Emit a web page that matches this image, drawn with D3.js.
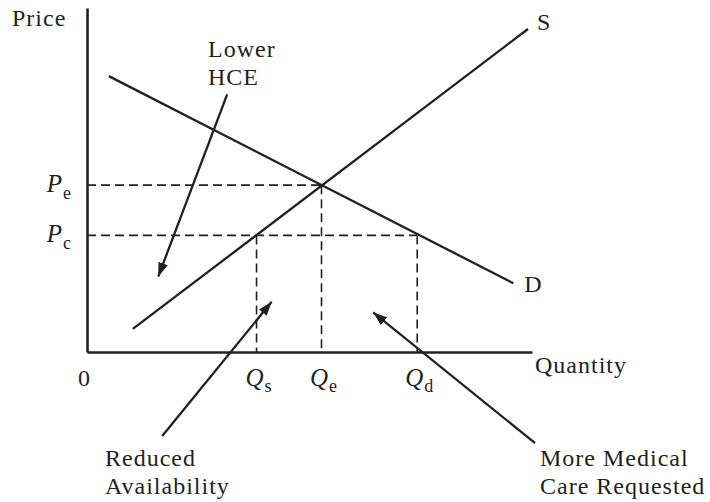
<!DOCTYPE html>
<html>
<head>
<meta charset="utf-8">
<script src="https://cdn.jsdelivr.net/npm/d3@7"></script>
<style>
  body { margin: 0; background: #fff; }
  text { font-family: "Liberation Serif", "Times New Roman", serif; fill: #231f20; letter-spacing: 1px; }
  text.sym { letter-spacing: 0; }
</style>
</head>
<body>
<div id="chart"></div>
<script>
/* curves, in quantity / price units (0-100) */
var supplyPts = [[10.3, 6.7], [99.1, 93.9]];
var demandPts = [[4.9, 80.2], [95.8, 20.0]];

/* equilibrium and price-ceiling levels */
var priceLevels = [{name: "e", p: 48.5, q: 52.7}, {name: "c", p: 33.9, q: 74.2}];
var qtyLevels = [{name: "s", q: 38.1, p: 33.9}, {name: "e", q: 52.7, p: 48.5}, {name: "d", q: 74.2, p: 33.9}];

/* annotation arrows: [from, to] */
var arrowPts = [
  [[31.5, 74.9], [16.0, 21.9]],
  [[16.9, -24.4], [41.5, 14.6]],
  [[100.7, -26.5], [64.3, 11.5]]
];

var width = 710, height = 502;
var x = d3.scaleLinear().domain([0, 100]).range([87, 532]);
var y = d3.scaleLinear().domain([0, 100]).range([352, 8]);
var ink = "#231f20";

var svg = d3.select("#chart").append("svg")
    .attr("width", width)
    .attr("height", height);

svg.append("defs").append("marker")
    .attr("id", "head")
    .attr("markerUnits", "userSpaceOnUse")
    .attr("viewBox", "0 0 14 10")
    .attr("refX", 14).attr("refY", 5)
    .attr("markerWidth", 14).attr("markerHeight", 10)
    .attr("orient", "auto")
  .append("path")
    .attr("d", "M0,0 L14,5 L0,10 Z")
    .attr("fill", ink);

var line = d3.line()
    .x(function(d){ return x(d[0]); })
    .y(function(d){ return y(d[1]); });

/* dashed guides */
svg.selectAll(".hdash")
    .data(priceLevels)
    .enter().append("line")
    .attr("x1", x(0)).attr("x2", function(d){ return x(d.q); })
    .attr("y1", function(d){ return y(d.p); }).attr("y2", function(d){ return y(d.p); })
    .attr("stroke", ink).attr("stroke-width", 1.6).attr("stroke-dasharray", "9,5");

svg.selectAll(".vdash")
    .data(qtyLevels)
    .enter().append("line")
    .attr("x1", function(d){ return x(d.q); }).attr("x2", function(d){ return x(d.q); })
    .attr("y1", function(d){ return y(d.p); }).attr("y2", y(0))
    .attr("stroke", ink).attr("stroke-width", 1.6).attr("stroke-dasharray", "9,5");

/* supply and demand */
[supplyPts, demandPts].forEach(function(pts){
  svg.append("path")
      .attr("d", line(pts))
      .attr("fill", "none")
      .attr("stroke", ink)
      .attr("stroke-width", 2.3);
});

/* axes, no ticks */
var xAxis = d3.axisBottom(x).tickValues([]).tickSizeOuter(0);
var yAxis = d3.axisLeft(y).tickValues([]).tickSizeOuter(0);
svg.append("g").attr("transform", "translate(0," + y(0) + ")").call(xAxis);
svg.append("g").attr("transform", "translate(" + x(0) + ",0)").call(yAxis);
svg.selectAll(".domain").attr("stroke", ink).attr("stroke-width", 2.6);

/* arrows */
svg.selectAll(".arrow")
    .data(arrowPts)
    .enter().append("path")
    .attr("d", function(d){ return line(d); })
    .attr("stroke", ink)
    .attr("stroke-width", 2.3)
    .attr("fill", "none")
    .attr("marker-end", "url(#head)");

/* labels */
function label(tx, ty, s, anchor) {
  svg.append("text")
      .attr("x", tx).attr("y", ty)
      .attr("text-anchor", anchor || "start")
      .style("font-size", "24px")
      .text(s);
}
label(12, 26, "Price");
label(535, 373, "Quantity");
label(x(0) - 9, 386, "0", "start");
label(x(supplyPts[1][0]) + 9, y(supplyPts[1][1]) + 1, "S");
label(x(demandPts[1][0]) + 11, y(demandPts[1][1]) + 9, "D");
label(208, 57, "Lower");
label(208, 85, "HCE");
label(105, 466, "Reduced");
label(105, 494, "Availability");
label(540, 466, "More Medical");
label(540, 494, "Care Requested");

priceLevels.forEach(function(d){
  var t = svg.append("text")
      .attr("class", "sym")
      .attr("x", 71).attr("y", y(d.p) + 7)
      .attr("text-anchor", "end")
      .style("font-size", "25px");
  t.append("tspan").style("font-style", "italic").text("P");
  t.append("tspan").attr("dy", 7).attr("dx", 1).style("font-size", "18px").text(d.name);
});

qtyLevels.forEach(function(d){
  var t = svg.append("text")
      .attr("class", "sym")
      .attr("x", x(d.q) + 2).attr("y", 386)
      .attr("text-anchor", "middle")
      .style("font-size", "25px");
  t.append("tspan").style("font-style", "italic").text("Q");
  t.append("tspan").attr("dy", 6).attr("dx", 1).style("font-size", "18px").text(d.name);
});
</script>
</body>
</html>
